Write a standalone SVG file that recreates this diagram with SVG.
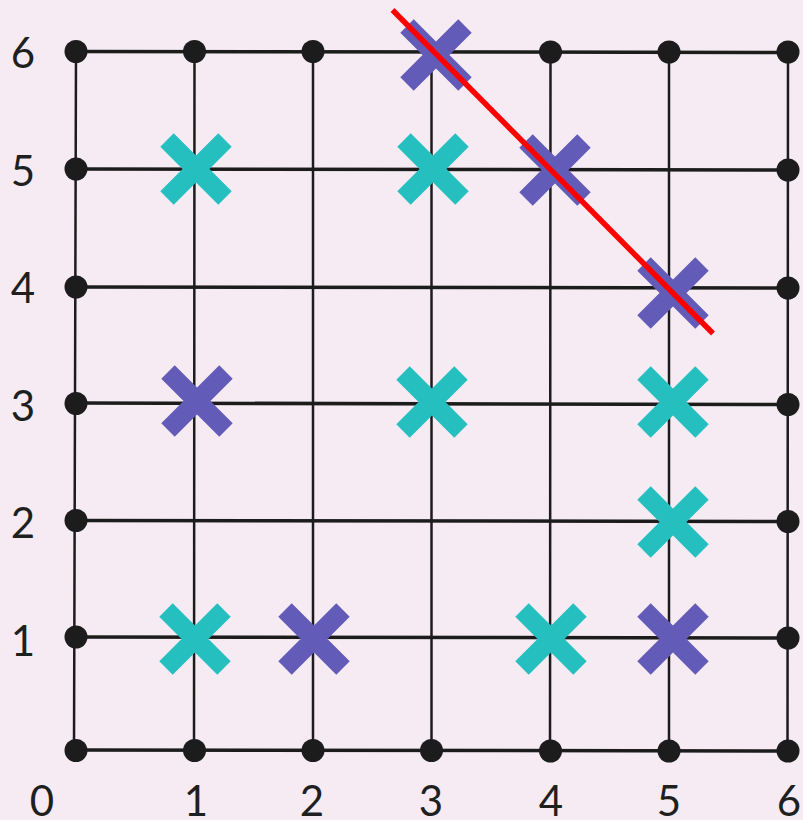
<svg xmlns="http://www.w3.org/2000/svg" width="803" height="820" viewBox="0 0 803 820">
<style>
.h{stroke:#1c1c1c;stroke-width:3.5;fill:none}
.v{stroke:#1c1c1c;stroke-width:2.5;fill:none}
.dot{fill:#1c1c1c}
.lbl{font-family:Lato,"Open Sans",sans-serif;font-size:42px;fill:#1f1f1f;text-anchor:middle}
.teal{stroke:#26bfbf;stroke-width:19;fill:none}
.purple{stroke:#625bb8;stroke-width:19;fill:none}
</style>
<defs>
<path id="x" d="M-29,-29L29,29M29,-29L-29,29"/>
</defs>
<rect width="803" height="820" fill="#f6ebf3"/>
<g id="grid">
<path class="h" d="M76,51.5L788,52.5M76,169L788,170M76,287L788,288M76,403L788,404.5M76,520.5L788,521.5M76,637L788,638M76,750L788,751"/>
<path class="v" d="M76,51L74,750M194.5,51L194,750M313,51L313,750M431.5,51L431.5,750M550.5,51L550,750M669,51L669,750M788,51L787.5,750"/>
</g>
<g id="dots">
<circle class="dot" cx="76" cy="51.5" r="11.5"/><circle class="dot" cx="194.5" cy="51.5" r="11.5"/><circle class="dot" cx="313" cy="51.5" r="11.5"/><circle class="dot" cx="550.5" cy="52" r="11.5"/><circle class="dot" cx="669" cy="52" r="11.5"/><circle class="dot" cx="788" cy="52" r="11.5"/>
<circle class="dot" cx="76" cy="169" r="11.5"/><circle class="dot" cx="788" cy="170" r="11.5"/>
<circle class="dot" cx="76" cy="287" r="11.5"/><circle class="dot" cx="788" cy="288" r="11.5"/>
<circle class="dot" cx="76" cy="403.5" r="11.5"/><circle class="dot" cx="788" cy="404.5" r="11.5"/>
<circle class="dot" cx="76" cy="520.5" r="11.5"/><circle class="dot" cx="788" cy="521.5" r="11.5"/>
<circle class="dot" cx="76" cy="637" r="11.5"/><circle class="dot" cx="788" cy="638" r="11.5"/>
<circle class="dot" cx="76" cy="750.5" r="11.5"/><circle class="dot" cx="194.5" cy="750.5" r="11.5"/><circle class="dot" cx="313" cy="750.5" r="11.5"/><circle class="dot" cx="431.5" cy="750.5" r="11.5"/><circle class="dot" cx="550.5" cy="751" r="11.5"/><circle class="dot" cx="669" cy="751" r="11.5"/><circle class="dot" cx="788" cy="751" r="11.5"/>
</g>
<g id="teal-crosses">
<use href="#x" class="teal" x="196" y="169"/>
<use href="#x" class="teal" x="433" y="169"/>
<use href="#x" class="teal" x="432" y="402"/>
<use href="#x" class="teal" x="673" y="402"/>
<use href="#x" class="teal" x="673" y="522"/>
<use href="#x" class="teal" x="195" y="639"/>
<use href="#x" class="teal" x="551" y="639"/>
</g>
<g id="purple-crosses">
<use href="#x" class="purple" x="436" y="55"/>
<use href="#x" class="purple" x="555" y="170"/>
<use href="#x" class="purple" x="673" y="293"/>
<use href="#x" class="purple" x="197" y="401"/>
<use href="#x" class="purple" x="314" y="639"/>
<use href="#x" class="purple" x="673" y="639"/>
</g>
<g id="line">
<line x1="392.5" y1="10" x2="713" y2="333.5" stroke="#ff0000" stroke-width="5.5"/>
</g>
<g id="y-labels">
<text class="lbl" x="23" y="68">6</text>
<text class="lbl" x="23" y="186">5</text>
<text class="lbl" x="23" y="303">4</text>
<text class="lbl" x="23" y="421">3</text>
<text class="lbl" x="23" y="538">2</text>
<text class="lbl" x="23" y="656">1</text>
</g>
<g id="x-labels">
<text class="lbl" x="42" y="816">0</text>
<text class="lbl" x="196" y="816">1</text>
<text class="lbl" x="312" y="816">2</text>
<text class="lbl" x="431" y="816">3</text>
<text class="lbl" x="551" y="816">4</text>
<text class="lbl" x="669" y="816">5</text>
<text class="lbl" x="789" y="816">6</text>
</g>
</svg>
